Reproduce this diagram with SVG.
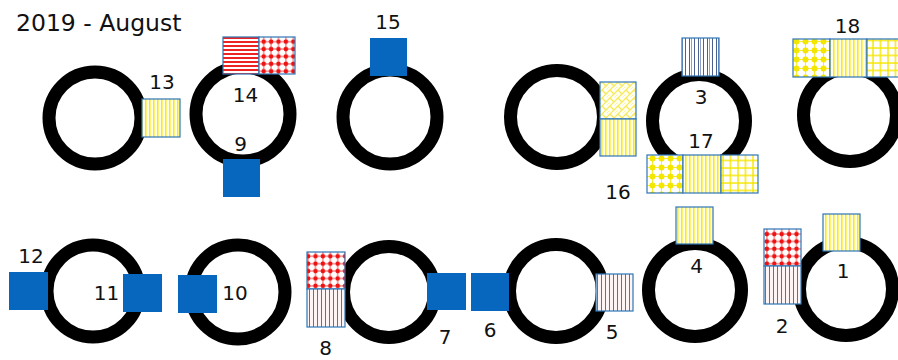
<svg xmlns="http://www.w3.org/2000/svg" width="898" height="360" viewBox="0 0 898 360">
  <defs>
    <!-- fill patterns for the marker squares -->
    <pattern id="yStripes" patternUnits="userSpaceOnUse" width="4" height="8">
      <rect width="4" height="8" fill="#ffffe8"/>
      <rect x="1" y="0" width="1.5" height="8" fill="#ffe800"/>
    </pattern>
    <pattern id="rStripesV" patternUnits="userSpaceOnUse" width="4" height="8">
      <rect width="4" height="8" fill="#fff4f4"/>
      <rect x="1" y="0" width="1" height="8" fill="#ff3333"/>
    </pattern>
    <pattern id="rStripesH" patternUnits="userSpaceOnUse" width="8" height="4">
      <rect width="8" height="4" fill="#ffffff"/>
      <rect x="0" y="1" width="8" height="2" fill="#ee2222"/>
    </pattern>
    <pattern id="rDots" patternUnits="userSpaceOnUse" width="7.4" height="7.4" x="1" y="1">
      <rect width="7.4" height="7.4" fill="#ffffff"/>
      <line x1="3.7" y1="0" x2="3.7" y2="7.4" stroke="#ee2222" stroke-width="0.8"/>
      <line x1="0" y1="3.7" x2="7.4" y2="3.7" stroke="#ee2222" stroke-width="0.8"/>
      <circle cx="3.7" cy="3.7" r="2.3" fill="#ee1111"/>
    </pattern>
    <pattern id="bStripes" patternUnits="userSpaceOnUse" width="9" height="8">
      <rect width="9" height="8" fill="#ffffff"/>
      <rect x="1" y="0" width="1" height="8" fill="#4c6190"/>
      <rect x="5" y="0" width="1" height="8" fill="#4c6190"/>
      <rect x="7" y="0" width="1" height="8" fill="#8fa0c4"/>
    </pattern>
    <pattern id="yDots" patternUnits="userSpaceOnUse" width="9" height="9" x="0" y="1">
      <rect width="9" height="9" fill="#ffffff"/>
      <line x1="4.5" y1="0" x2="4.5" y2="9" stroke="#f5e600" stroke-width="0.8"/>
      <line x1="0" y1="4.5" x2="9" y2="4.5" stroke="#f5e600" stroke-width="0.8"/>
      <circle cx="4.5" cy="4.5" r="3" fill="#f5e600"/>
    </pattern>
    <pattern id="yGrid" patternUnits="userSpaceOnUse" width="7.5" height="7.5" x="2" y="2">
      <rect width="7.5" height="7.5" fill="#ffffff"/>
      <line x1="1" y1="0" x2="1" y2="7.5" stroke="#f5e600" stroke-width="1.4"/>
      <line x1="0" y1="1" x2="7.5" y2="1" stroke="#f5e600" stroke-width="1.4"/>
    </pattern>
    <pattern id="yWeave" patternUnits="userSpaceOnUse" width="8" height="8">
      <rect width="8" height="8" fill="#fffff0"/>
      <path d="M0,4 L4,0 M4,8 L8,4 M2,2 L6,6 M-2,6 L2,10 M6,-2 L10,2" stroke="#f5e85a" stroke-width="1.3" fill="none"/>
    </pattern>
  </defs>
  <style>
    .ring { fill: none; stroke: #000000; stroke-width: 13; }
    .sq { stroke: #2e75b6; stroke-width: 1.2; }
    .solid { fill: #0766be; stroke: none; }
    .lbl { font-family: "DejaVu Sans", Verdana, sans-serif; font-size: 20px; fill: #111111; text-anchor: middle; }
    .title { font-family: "DejaVu Sans", Verdana, sans-serif; font-size: 23.5px; fill: #111111; }
  </style>

  <rect width="898" height="360" fill="#ffffff"/>

  <text class="title" x="16" y="31">2019 - August</text>

  <!-- top row -->
  <g id="ring-13">
    <circle class="ring" cx="95" cy="118" r="46"/>
    <rect class="sq" x="142" y="99" width="38" height="38" fill="url(#yStripes)"/>
    <text class="lbl" x="162" y="89">13</text>
  </g>

  <g id="ring-14-9">
    <circle class="ring" cx="243" cy="114" r="47"/>
    <rect class="sq" x="223" y="37" width="36" height="37" fill="url(#rStripesH)"/>
    <rect class="sq" x="259" y="37" width="36" height="37" fill="url(#rDots)"/>
    <rect class="solid" x="223" y="159" width="37" height="38"/>
    <text class="lbl" x="245.5" y="102">14</text>
    <text class="lbl" x="240.5" y="151">9</text>
  </g>

  <g id="ring-15">
    <circle class="ring" cx="390" cy="117" r="47"/>
    <rect class="solid" x="370" y="38" width="37" height="38"/>
    <text class="lbl" x="388" y="29">15</text>
  </g>

  <g id="ring-16">
    <circle class="ring" cx="557" cy="117" r="46.5"/>
    <rect class="sq" x="600" y="82" width="36" height="37" fill="url(#yWeave)"/>
    <rect class="sq" x="600" y="119" width="36" height="37" fill="url(#yStripes)"/>
    <text class="lbl" x="618" y="199">16</text>
  </g>

  <g id="ring-3-17">
    <circle class="ring" cx="699" cy="121" r="46.5"/>
    <rect class="sq" x="682" y="38" width="37" height="38" fill="url(#bStripes)"/>
    <rect class="sq" x="647" y="155" width="36" height="38" fill="url(#yDots)"/>
    <rect class="sq" x="683" y="155" width="38" height="38" fill="url(#yStripes)"/>
    <rect class="sq" x="721" y="155" width="37" height="38" fill="url(#yGrid)"/>
    <text class="lbl" x="701" y="104">3</text>
    <text class="lbl" x="701" y="148">17</text>
  </g>

  <g id="ring-18">
    <circle class="ring" cx="850" cy="115" r="46.5"/>
    <rect class="sq" x="793" y="39" width="37" height="38" fill="url(#yDots)"/>
    <rect class="sq" x="830" y="39" width="37" height="38" fill="url(#yStripes)"/>
    <rect class="sq" x="867" y="39" width="37" height="38" fill="url(#yGrid)"/>
    <text class="lbl" x="847.5" y="33">18</text>
  </g>

  <!-- bottom row -->
  <g id="ring-12-11">
    <circle class="ring" cx="93" cy="291" r="46"/>
    <rect class="solid" x="9" y="272" width="39" height="38"/>
    <rect class="solid" x="123" y="274" width="39" height="38"/>
    <text class="lbl" x="31" y="263">12</text>
    <text class="lbl" x="106.5" y="300">11</text>
  </g>

  <g id="ring-10">
    <circle class="ring" cx="238" cy="292" r="47"/>
    <rect class="solid" x="178" y="275" width="39" height="38"/>
    <text class="lbl" x="235" y="300">10</text>
  </g>

  <g id="ring-8-7">
    <circle class="ring" cx="389" cy="292" r="45.5"/>
    <rect class="sq" x="307" y="252" width="38" height="37" fill="url(#rDots)"/>
    <rect class="sq" x="307" y="289" width="38" height="38" fill="url(#rStripesV)"/>
    <rect class="solid" x="427" y="273" width="39" height="37"/>
    <text class="lbl" x="325.5" y="355">8</text>
    <text class="lbl" x="445" y="344">7</text>
  </g>

  <g id="ring-6-5">
    <circle class="ring" cx="556" cy="291" r="46.5"/>
    <rect class="solid" x="471" y="273" width="38" height="38"/>
    <rect class="sq" x="596" y="274" width="37" height="37" fill="url(#rStripesV)"/>
    <text class="lbl" x="490" y="337">6</text>
    <text class="lbl" x="612" y="339">5</text>
  </g>

  <g id="ring-4">
    <circle class="ring" cx="695" cy="290" r="46.5"/>
    <rect class="sq" x="676" y="207" width="37" height="37" fill="url(#yStripes)"/>
    <text class="lbl" x="696.5" y="273">4</text>
  </g>

  <g id="ring-2-1">
    <circle class="ring" cx="846" cy="289" r="46.5"/>
    <rect class="sq" x="764" y="229" width="37" height="37" fill="url(#rDots)"/>
    <rect class="sq" x="764" y="266" width="37" height="38" fill="url(#rStripesV)"/>
    <rect class="sq" x="823" y="214" width="37" height="37" fill="url(#yStripes)"/>
    <text class="lbl" x="782" y="333">2</text>
    <text class="lbl" x="843" y="278">1</text>
  </g>

  <!-- no connectors in this drawing -->
  <g id="connectors"/>
</svg>
